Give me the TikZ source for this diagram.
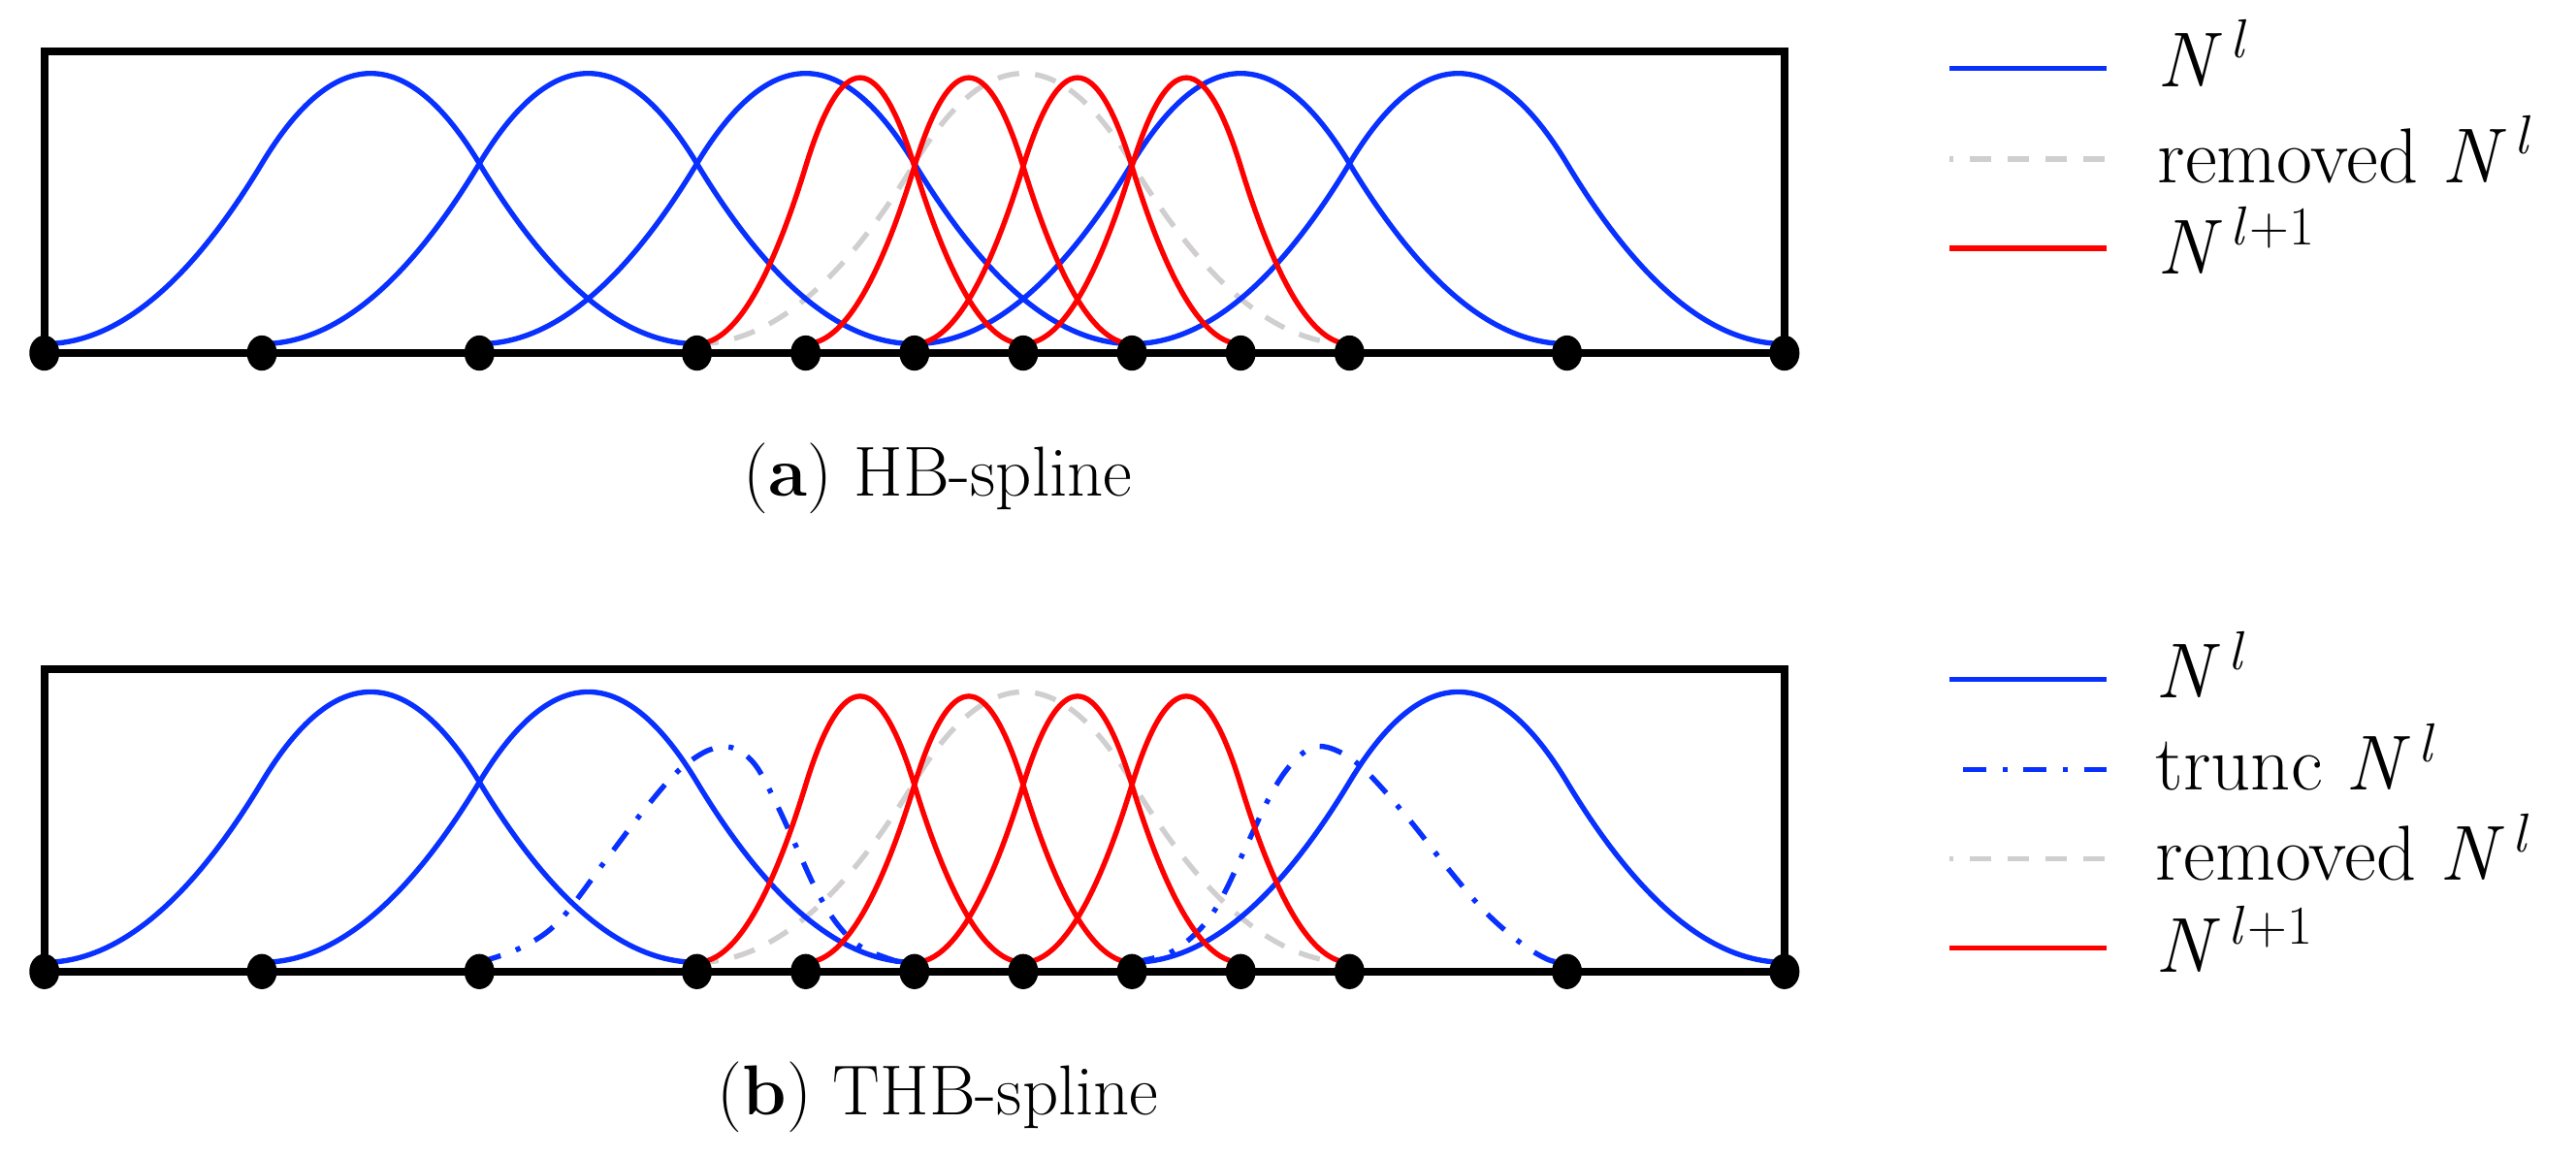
\documentclass[tikz,border=0pt]{standalone}
\usepackage{fontspec}
\definecolor{cblue}{RGB}{8,48,255}
\definecolor{cred}{RGB}{255,0,0}
\definecolor{cgray}{RGB}{208,206,206}
\tikzset{
 frameline/.style={line width=2.7pt, black},
 knotdot/.style={fill=black, draw=none},
 blueline/.style={cblue, line width=1.8pt},
 redline/.style={cred, line width=1.8pt},
 grayline/.style={cgray, line width=1.8pt, dash pattern=on 7.5pt off 5.6pt},
 truncline/.style={cblue, line width=1.8pt, dash pattern=on 8pt off 5.6pt on 1.7pt off 5.6pt},
 lbl/.style={anchor=base west, inner sep=0pt, font=\fontsize{27}{32}\selectfont},
 capt/.style={anchor=base, inner sep=0pt, font=\fontsize{24.5}{29}\selectfont},
}
\newcommand\supsc[1]{\raisebox{10pt}{\fontsize{19}{22}\selectfont #1}}
\newcommand\Nl{\textit{N}\kern0.1em\supsc{\textit{l}}}
\newcommand\Nlp{\textit{N}\kern0.1em\supsc{\textit{l}\kern0.05em+1}}
% quadratic uniform B-spline: [style] x0, h, baseline y, S (height of value 1)
\newcommand\qbspline[5][]{%
 \draw[#1] ({#2},{#4}) .. controls ({#2+#3/3},{#4}) and ({#2+2*#3/3},{#4-#5/6}) .. ({#2+#3},{#4-#5/2})
  .. controls ({#2+4*#3/3},{#4-5*#5/6}) and ({#2+5*#3/3},{#4-5*#5/6}) .. ({#2+2*#3},{#4-#5/2})
  .. controls ({#2+7*#3/3},{#4-#5/6}) and ({#2+8*#3/3},{#4}) .. ({#2+3*#3},{#4});}
\begin{document}
\begin{tikzpicture}[x=0.02cm, y=-0.02cm]
\useasboundingbox (0,0) rectangle (1568,704);
% ---------------- (a) HB-spline ----------------
\qbspline[grayline]{424.2}{132.4}{209.3}{219.5}
\foreach \xo in {27,159.4,291.8,556.6,689}{\qbspline[blueline]{\xo}{132.4}{209.3}{219.5}}
\foreach \xo in {424.2,490.4,556.6,622.8}{\qbspline[redline]{\xo}{66.2}{209.3}{216}}
\draw[frameline] (27,31) rectangle (1086.5,214.9);
\foreach \xk in {27,159.4,291.8,424.2,490.4,556.6,622.8,689,755.2,821.4,953.8,1086.2}
  {\fill[knotdot] (\xk,214.9) ellipse [x radius=5.2pt, y radius=6.1pt];}
% legend (a)
\draw[blueline] (1186.5,41.8) -- (1282.5,41.8);
\draw[grayline, dash phase=6pt] (1186.5,96.8) -- (1282.5,96.8);
\draw[redline] (1186.5,151.1) -- (1282.5,151.1);
\node[lbl] (la1) at (1313,52.7) {\Nl};
\node[lbl] (la2) at (1313,111.2) {removed \Nl};
\node[lbl] (la3) at (1313,166.9) {\Nlp};
\node[capt] (capa) at (571,302) {(\textbf{a}) HB-spline};
% ---------------- (b) THB-spline ----------------
\qbspline[grayline]{424.2}{132.4}{585.8}{219.5}
\foreach \xo in {27,159.4,689}{\qbspline[blueline]{\xo}{132.4}{585.8}{219.5}}
\draw[truncline] plot[smooth, tension=0.6] coordinates {(291.3,585.8) (316.8,577) (340,561) (367.7,525) (389.7,496) (410,472) (425,460) (437,455) (448,456) (460,466) (472,488) (484.5,515) (497,542) (510,563) (525,577) (548,585.8)};
\draw[truncline] plot[smooth, tension=0.6] coordinates {(689,585.8) (712,580) (731,565) (744,546) (760,512) (775,481) (788,463) (801,454.5) (816,458) (832,470) (857,498) (880,527) (903,554) (925,573.5) (942,584) (952,585.8)};
\foreach \xo in {424.2,490.4,556.6,622.8}{\qbspline[redline]{\xo}{66.2}{585.8}{216}}
\draw[frameline] (27,407.5) rectangle (1086.5,591.4);
\foreach \xk in {27,159.4,291.8,424.2,490.4,556.6,622.8,689,755.2,821.4,953.8,1086.2}
  {\fill[knotdot] (\xk,591.4) ellipse [x radius=5.2pt, y radius=6.1pt];}
% legend (b)
\draw[blueline] (1186.5,413.6) -- (1282.5,413.6);
\draw[truncline, dash phase=16.1pt] (1186.5,468.3) -- (1282.5,468.3);
\draw[grayline, dash phase=6pt] (1186.5,522.6) -- (1282.5,522.6);
\draw[redline] (1186.5,577.1) -- (1282.5,577.1);
\node[lbl] (lb1) at (1312,425) {\Nl};
\node[lbl] (lb2) at (1312,481) {trunc \Nl};
\node[lbl] (lb3) at (1312,536) {removed \Nl};
\node[lbl] (lb4) at (1312,592) {\Nlp};
\node[capt] (capb) at (571,678.5) {(\textbf{b}) THB-spline};
\end{tikzpicture}
\end{document}
